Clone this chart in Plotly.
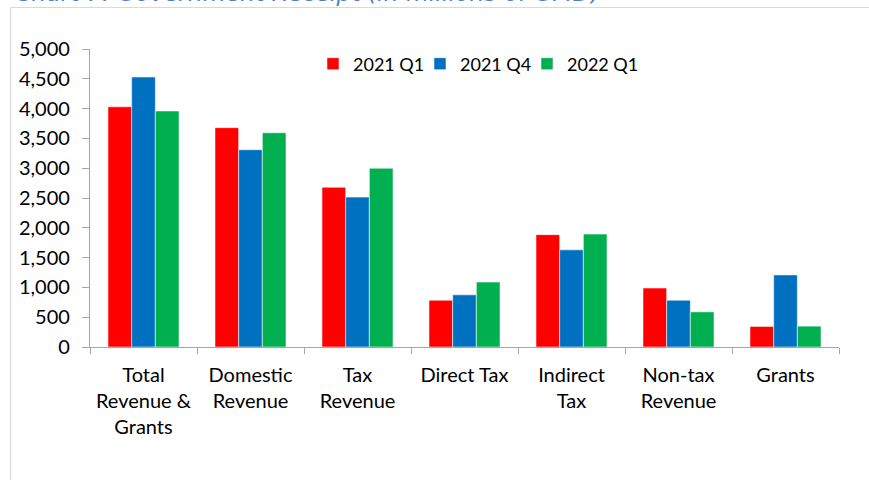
import plotly.graph_objects as go

categories = ["Total<br>Revenue &<br>Grants", "Domestic<br>Revenue", "Tax<br>Revenue",
              "Direct Tax", "Indirect<br>Tax", "Non-tax<br>Revenue", "Grants"]
series_names = ["2021 Q1", "2021 Q4", "2022 Q1"]
q1_2021 = [4030, 3680, 2680, 785, 1885, 990, 345]
q4_2021 = [4530, 3310, 2515, 875, 1630, 785, 1210]
q1_2022 = [3960, 3595, 3000, 1090, 1895, 590, 350]
colors = ["#FF0000", "#0070C0", "#00B050"]
y_ticks = [0, 500, 1000, 1500, 2000, 2500, 3000, 3500, 4000, 4500, 5000]
title_text = "Chart 7: Government Receipt (in millions of GMD)"

W, H = 869, 480
L, R, T, B = 90, 30, 49, 133
pw, ph = W - L - R, H - T - B

def px_x(p):
    return (p - L) / pw

def px_y(p):
    return (H - B - p) / ph

fig = go.Figure()
for i, (name, vals, col) in enumerate(zip(series_names, [q1_2021, q4_2021, q1_2022], colors)):
    fig.add_trace(go.Bar(
        x=categories, y=vals, name=name,
        marker=dict(color=col, line=dict(color="rgba(255,255,255,0.55)", width=1)),
        legendwidth=(95 if i == len(series_names) - 1 else None),
    ))

font_family = "Lato, 'Open Sans', sans-serif"

fig.update_layout(
    width=W, height=H,
    margin=dict(l=L, r=R, t=T, b=B, pad=0),
    paper_bgcolor="white", plot_bgcolor="white",
    barmode="group", bargap=0.336, bargroupgap=0,
    font=dict(family=font_family, size=19, color="#000000"),
    showlegend=True,
    legend=dict(
        orientation="h", x=px_x(313), y=px_y(64), xanchor="left", yanchor="middle",
        font=dict(size=18, color="#000000"), bgcolor="rgba(0,0,0,0)",
        entrywidth=62, entrywidthmode="pixels", traceorder="normal",
    ),
    xaxis=dict(
        showline=True, linecolor="#A6A6A6", linewidth=1.3,
        ticks="outside", tickson="boundaries", ticklen=6, tickcolor="#A6A6A6", tickwidth=1.3,
        tickfont=dict(size=20, family=font_family, color="#000000"),
        ticklabelstandoff=10,
        showgrid=False, zeroline=False, fixedrange=True,
    ),
    yaxis=dict(
        range=[0, 5000], tickvals=y_ticks, tickformat=",",
        showline=True, linecolor="#A6A6A6", linewidth=1.3,
        ticks="outside", ticklen=7, tickcolor="#A6A6A6", tickwidth=1.3,
        tickfont=dict(size=20, family=font_family, color="#000000"),
        ticklabelstandoff=8,
        showgrid=False, zeroline=False, fixedrange=True,
    ),
)

# chart frame (light grey border, top-left corner visible)
fig.add_shape(type="line", xref="paper", yref="paper",
              x0=px_x(10.5), x1=px_x(880), y0=px_y(7.5), y1=px_y(7.5),
              line=dict(color="#D9D9D9", width=1.2))
fig.add_shape(type="line", xref="paper", yref="paper",
              x0=px_x(10.5), x1=px_x(10.5), y0=px_y(7.5), y1=px_y(490),
              line=dict(color="#D9D9D9", width=1.2))

# title, mostly cut off at the top
fig.add_annotation(text="<i>" + title_text + "</i>", xref="paper", yref="paper",
                   x=px_x(13), y=px_y(-7.5), xanchor="left", yanchor="middle",
                   showarrow=False,
                   font=dict(family="DejaVu Sans", size=23.5, color="#4A7EC8"))

fig.write_html("out.html", config={"displayModeBar": False},
               post_script="document.body.style.margin='0';document.body.style.overflow='hidden';")
